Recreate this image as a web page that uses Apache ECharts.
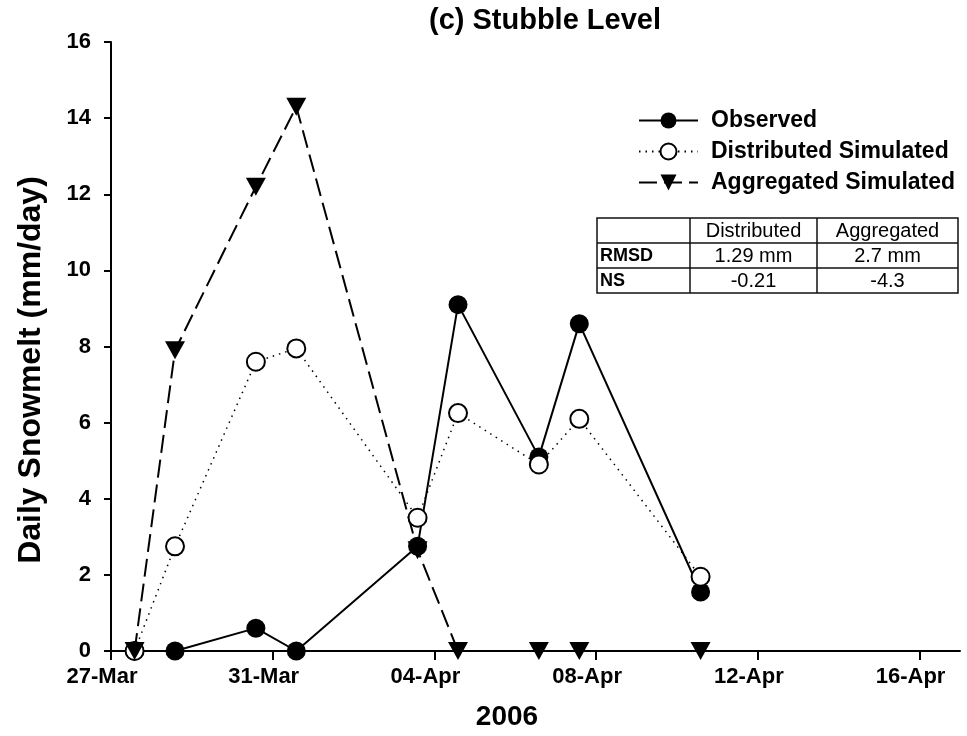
<!DOCTYPE html>
<html>
<head>
<meta charset="utf-8">
<script src="https://cdn.jsdelivr.net/npm/echarts@6/dist/echarts.min.js"></script>
<style>
html,body{margin:0;padding:0;background:#fff;}
#chart{width:967px;height:736px;}
</style>
</head>
<body>
<div id="chart"></div>
<script>
// ---- data ----
const axisStart = '2006-03-27T00:00:00Z';
const axisEnd = '2006-04-17T00:00:00Z';
const dates = ['2006-03-27T14:00:00Z','2006-03-28T14:00:00Z','2006-03-30T14:00:00Z','2006-03-31T14:00:00Z',
               '2006-04-03T14:00:00Z','2006-04-04T14:00:00Z','2006-04-06T14:00:00Z','2006-04-07T14:00:00Z',
               '2006-04-10T14:00:00Z'];
const observed    = [0, 0, 0.6, 0, 2.75, 9.1, 5.1, 8.6, 1.55];
const distributed = [0, 2.75, 7.6, 7.95, 3.5, 6.25, 4.9, 6.1, 1.95];
const aggregated  = [0, 7.9, 12.2, 14.3, 2.65, 0, 0, 0, 0];
const seriesNames = ['Observed', 'Distributed Simulated', 'Aggregated Simulated'];
const xTickDates  = ['2006-03-27T00:00:00Z','2006-03-31T00:00:00Z','2006-04-04T00:00:00Z',
                     '2006-04-08T00:00:00Z','2006-04-12T00:00:00Z','2006-04-16T00:00:00Z'];
const xTickLabels = ['27-Mar','31-Mar','04-Apr','08-Apr','12-Apr','16-Apr'];
const yTicks = [0, 2, 4, 6, 8, 10, 12, 14, 16];
const tableHeader = ['', 'Distributed', 'Aggregated'];
const tableRows = [['RMSD', '1.29 mm', '2.7 mm'], ['NS', '-0.21', '-4.3']];
const chartTitle = '(c) Stubble Level';
const xTitle = '2006';
const yTitle = 'Daily Snowmelt (mm/day)';

// ---- helpers ----
const DAY = 86400000;
const t0 = Date.parse(axisStart);
const toDay = d => (Date.parse(d) - t0) / DAY;
const xTickDays = xTickDates.map(toDay);
const pairs = vals => vals.map((v, i) => [toDay(dates[i]), v]);
const FONT = "'Liberation Sans', Arial, sans-serif";

// ---- table graphic ----
const tb = {x: 597, y: 218, colX: [597, 690, 817, 958], rowH: 25};
const tableEls = [];
const nRows = 1 + tableRows.length;
tableEls.push({type:'rect', shape:{x:tb.x, y:tb.y, width:tb.colX[3]-tb.x, height:nRows*tb.rowH},
  style:{fill:'#fff', stroke:'#111', lineWidth:1.5}});
for (let r = 1; r < nRows; r++) {
  tableEls.push({type:'line', shape:{x1:tb.x, y1:tb.y + r*tb.rowH, x2:tb.colX[3], y2:tb.y + r*tb.rowH},
    style:{stroke:'#111', lineWidth:1.5}});
}
for (let c = 1; c < 3; c++) {
  tableEls.push({type:'line', shape:{x1:tb.colX[c], y1:tb.y, x2:tb.colX[c], y2:tb.y + nRows*tb.rowH},
    style:{stroke:'#111', lineWidth:1.5}});
}
const allRows = [tableHeader].concat(tableRows);
allRows.forEach((row, r) => {
  row.forEach((txt, c) => {
    if (!txt) return;
    const cy = tb.y + r*tb.rowH + tb.rowH/2 + 1;
    const isLabel = (c === 0);
    tableEls.push({type:'text', x: isLabel ? tb.x + 3 : (tb.colX[c] + tb.colX[c+1]) / 2, y: cy,
      style:{text: txt, fontSize: isLabel ? 18 : 20, fontFamily: FONT, fontWeight: isLabel ? 'bold' : 'normal',
             fill:'#000', align: isLabel ? 'left' : 'center', verticalAlign:'middle'}});
  });
});

const chart = echarts.init(document.getElementById('chart'), null, {renderer:'canvas'});
chart.setOption({
  animation: false,
  backgroundColor: '#fff',
  title: {text: chartTitle, left: 540, top: 1, textAlign: 'center',
    textStyle: {fontSize: 29, fontWeight: 'bold', fontFamily: FONT, color: '#000'}},
  grid: {left: 111, right: 7, top: 42, bottom: 84},
  legend: {orient: 'vertical', left: 638, top: 109, padding: 0, itemWidth: 59, itemHeight: 20, itemGap: 8,
    data: seriesNames,
    textStyle: {fontSize: 23, fontWeight: 'bold', fontFamily: FONT, color: '#000', padding: [0,0,0,8]}},
  xAxis: {
    type: 'value', min: 0, max: toDay(axisEnd),
    name: xTitle, nameLocation: 'middle', nameGap: 52,
    nameTextStyle: {fontSize: 28, fontWeight: 'bold', fontFamily: FONT, color: '#000', padding: [0, 57, 0, 0]},
    axisLine: {show: true, onZero: false, lineStyle: {color: '#000', width: 2}},
    axisTick: {show: true, customValues: xTickDays, length: 9, lineStyle: {color: '#000', width: 2}},
    axisLabel: {customValues: xTickDays, margin: 15,
      formatter: v => { const i = xTickDays.indexOf(v); return i >= 0 ? xTickLabels[i] : ''; },
      fontSize: 22, fontWeight: 'bold', fontFamily: FONT, color: '#000', padding: [0, 18, 0, 0]},
    splitLine: {show: false}
  },
  yAxis: {
    type: 'value', min: yTicks[0], max: yTicks[yTicks.length-1], interval: 2,
    axisLine: {show: true, lineStyle: {color: '#000', width: 2}},
    axisTick: {show: true, length: 7, lineStyle: {color: '#000', width: 2}},
    axisLabel: {margin: 20, fontSize: 22, fontWeight: 'bold', fontFamily: FONT, color: '#000'},
    splitLine: {show: false}
  },
  graphic: tableEls.concat([
    {type: 'text', x: 31, y: 370, rotation: Math.PI / 2,
     style: {text: yTitle, fontSize: 32, fontWeight: 'bold', fontFamily: FONT, fill: '#000',
             align: 'center', verticalAlign: 'middle'}}
  ]),
  series: [
    {name: seriesNames[0], type: 'line', data: pairs(observed),
     symbol: 'circle', symbolSize: 19,
     itemStyle: {color: '#000'}, lineStyle: {color: '#000', width: 2}},
    {name: seriesNames[1], type: 'line', data: pairs(distributed),
     symbol: 'circle', symbolSize: 18,
     itemStyle: {color: '#fff', borderColor: '#000', borderWidth: 2},
     lineStyle: {color: '#000', width: 1.5, type: [1.5, 5]}},
    {name: seriesNames[2], type: 'line', data: pairs(aggregated),
     symbol: 'triangle', symbolRotate: 180, symbolSize: [20, 18],
     itemStyle: {color: '#000'}, lineStyle: {color: '#000', width: 2, type: [18, 7]}}
  ]
});
</script>
</body>
</html>
